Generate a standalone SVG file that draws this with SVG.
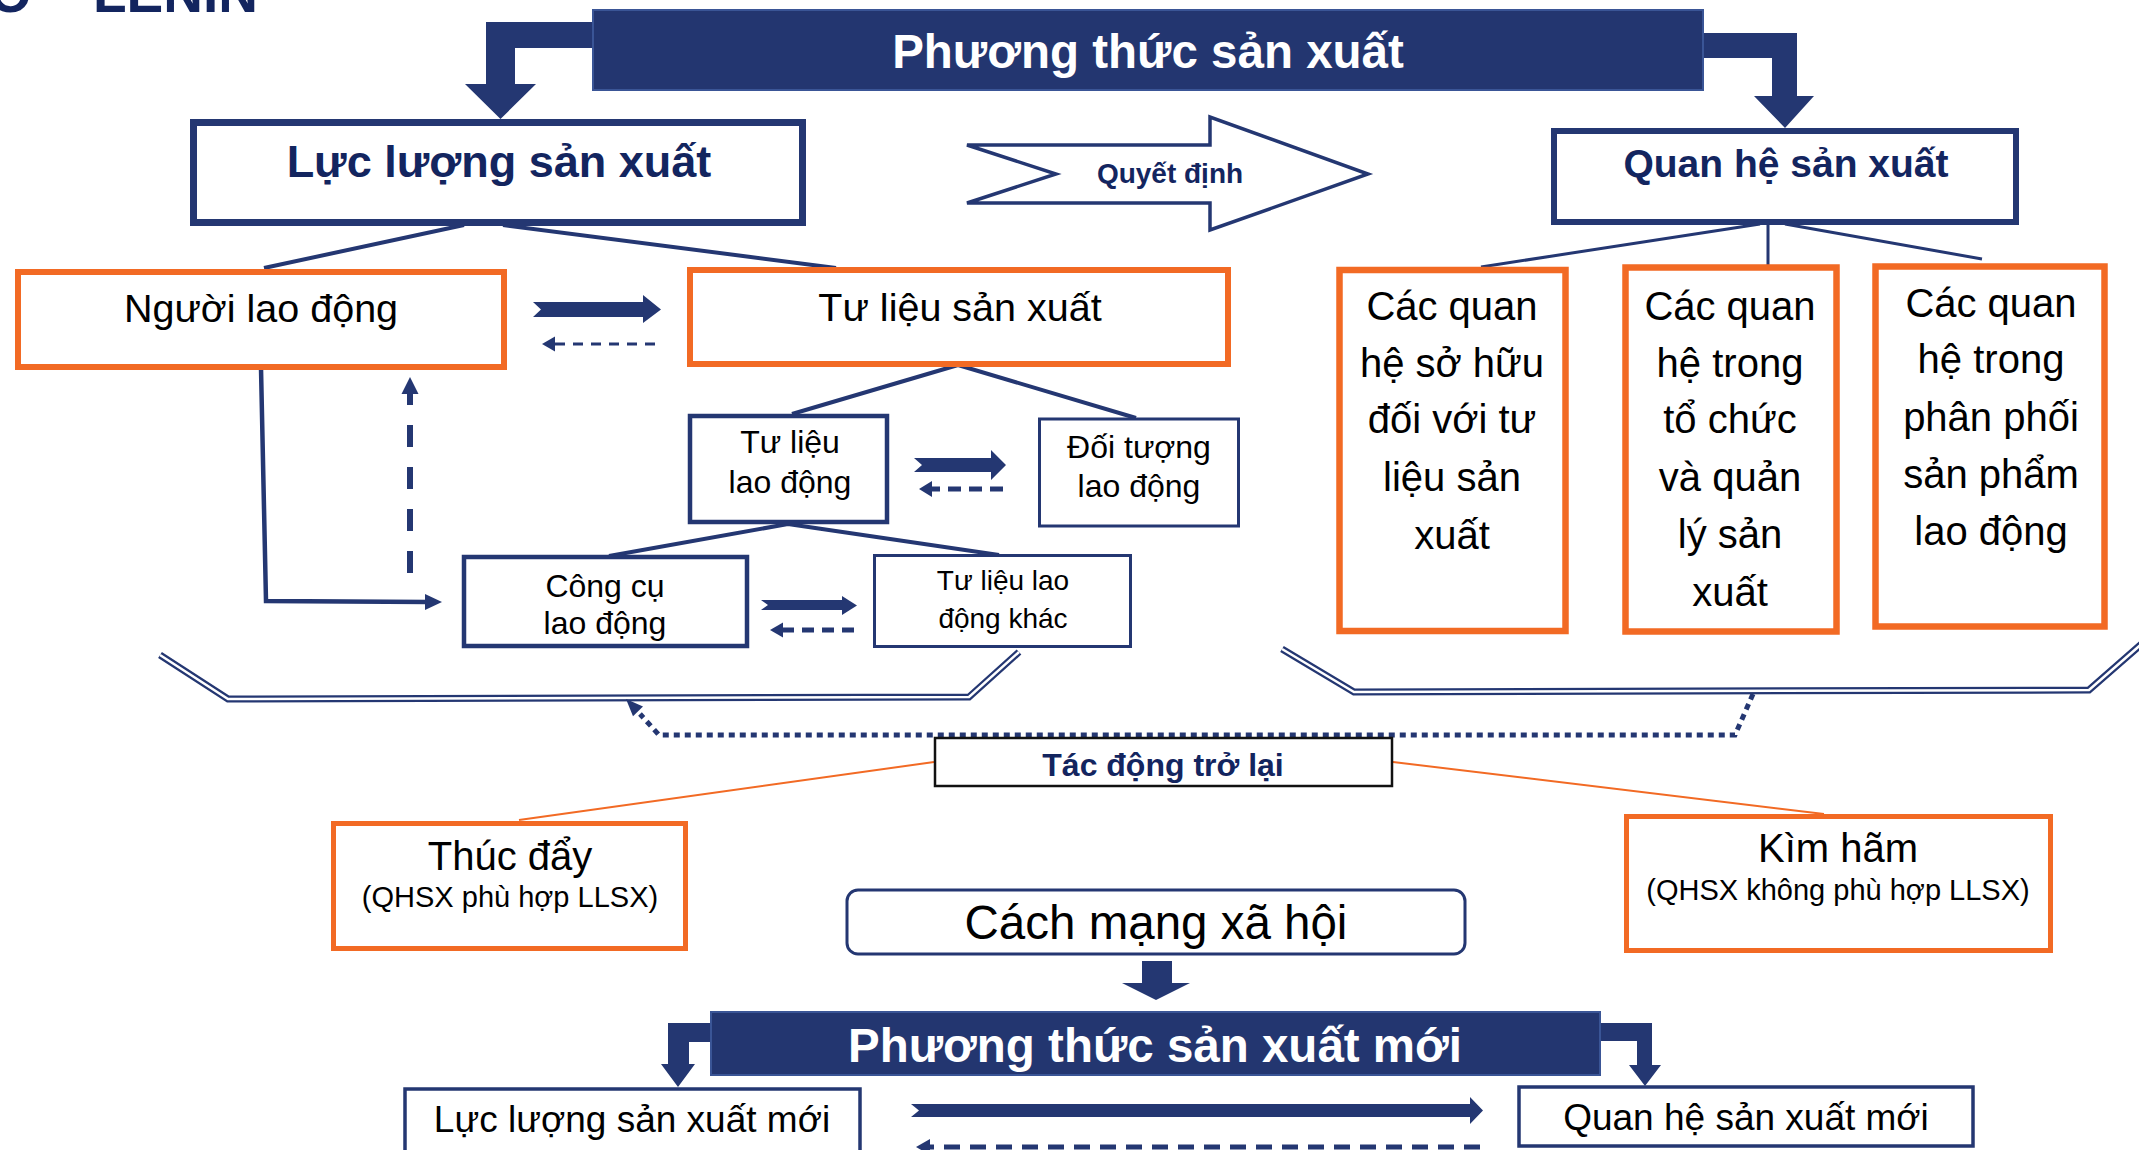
<svg xmlns="http://www.w3.org/2000/svg" width="2139" height="1150" viewBox="0 0 2139 1150">
<style>
text{font-family:"Liberation Sans",Arial,sans-serif;text-anchor:middle}
.t{fill:#000}
.nb{fill:#13255f;font-weight:bold}
.wb{fill:#fff;font-weight:bold}
.nav{fill:#243772}
.ln{stroke:#243772;fill:none}
.orb{fill:#fff;stroke:#f26a24}
.nvb{fill:#fff;stroke:#243772}
</style>
<rect width="2139" height="1150" fill="#fff"/>
<text x="258" y="12" class="nb" font-size="55" style="text-anchor:end">O – LENIN</text>

<g id="connectors">
  <!-- elbow arrows -->
  <polygon class="nav" points="593,22 486,22 486,84 465,84 500.5,119 536,84 515,84 515,48 593,48"/>
  <polygon class="nav" points="1703,33 1797,33 1797,96 1814,96 1785,128 1754,96 1772,96 1772,58 1703,58"/>
  <polygon class="nav" points="711,1023 668,1023 668,1064 661,1064 678,1087 695,1064 689,1064 689,1042 711,1042"/>
  <polygon class="nav" points="1600,1023 1652,1023 1652,1065 1661,1065 1645,1086 1629,1065 1637,1065 1637,1041 1600,1041"/>
  <!-- tree lines -->
  <path class="ln" stroke-width="4" d="M464,225 L264,268 M503,225 L836,268"/>
  <path class="ln" stroke-width="4" d="M958,365 L792,414 M958,365 L1136,418"/>
  <path class="ln" stroke-width="4" d="M788,524 L609,556 M788,524 L999,555"/>
  <path class="ln" stroke-width="3" d="M1760,224 L1481,267 M1768,224 L1768,265 M1785,224 L1982,259"/>
  <!-- Nguoi lao dong -> Cong cu -->
  <polyline class="ln" stroke-width="4.5" points="261,368 266,601 428,602"/>
  <polygon class="nav" points="425,594 442,602 425,610"/>
  <!-- vertical dashed up -->
  <line class="ln" stroke-width="6" x1="410" y1="573" x2="410" y2="393" stroke-dasharray="22 20"/>
  <polygon class="nav" points="401.5,394 410,377 418.5,394"/>
  <!-- thick arrows -->
  <polygon class="nav" points="533,302 643,302 643,295 661,309.5 643,323 643,317 533,317 541,309.5"/>
  <polygon class="nav" points="914,458 991,458 991,450 1006,465 991,480 991,472 914,472 922,465"/>
  <polygon class="nav" points="761,600 842,600 842,596 857,605.5 842,615 842,610 761,610 768,605"/>
  <polygon class="nav" points="911,1104 1470,1104 1470,1097 1483,1110.5 1470,1124 1470,1117 911,1117 919,1110.5"/>
  <!-- dashed back arrows -->
  <line class="ln" stroke-width="3" x1="655" y1="344" x2="555" y2="344" stroke-dasharray="10 8"/>
  <polygon class="nav" points="555,336.5 542,344 555,351.5"/>
  <line class="ln" stroke-width="5" x1="1003" y1="489" x2="932" y2="489" stroke-dasharray="13 8"/>
  <polygon class="nav" points="932,481 919,489 932,497"/>
  <line class="ln" stroke-width="5" x1="854" y1="630" x2="783" y2="630" stroke-dasharray="12 8"/>
  <polygon class="nav" points="783,622.5 770,630 783,637.5"/>
  <line class="ln" stroke-width="5" x1="1480" y1="1147" x2="930" y2="1147" stroke-dasharray="16 10"/>
  <polygon class="nav" points="930,1139 916,1147 930,1155"/>
  <!-- brackets (double lines) -->
  <path class="ln" stroke-width="7" d="M160,655 L228,699 L969,697 L1019,652"/>
  <path stroke="#fff" fill="none" stroke-width="2.5" d="M160,655 L228,699 L969,697 L1019,652"/>
  <path class="ln" stroke-width="7" d="M1282,649 L1354,692 L2089,690 L2145,641"/>
  <path stroke="#fff" fill="none" stroke-width="2.5" d="M1282,649 L1354,692 L2089,690 L2145,641"/>
  <!-- dotted feedback -->
  <polyline class="ln" stroke-width="5" stroke-dasharray="6 5" points="1753,694 1735,735 659,735 640,714"/>
  <polygon class="nav" points="626,699 643,706.6 633,716.2"/>
  <!-- orange lines -->
  <path stroke="#f26a24" stroke-width="2" fill="none" d="M934,762 L519,820 M1393,762 L1824,814"/>
  <!-- down arrow -->
  <polygon class="nav" points="1142,961 1172,961 1172,983 1190,983 1156,1000 1122,983 1142,983"/>
</g>

<g id="phuong-thuc">
  <rect x="593" y="10" width="1110" height="80" fill="#233670" stroke="#3a5596" stroke-width="2"/>
  <text x="1148" y="68" class="wb" font-size="47.5">Phương thức sản xuất</text>
</g>
<g id="luc-luong">
  <rect x="193.5" y="122.5" width="609" height="100" class="nvb" stroke-width="7"/>
  <text x="499" y="177" class="nb" font-size="45">Lực lượng sản xuất</text>
</g>
<g id="quyet-dinh">
  <polygon points="967,145 1210,145 1210,117 1368,174 1210,230 1210,203 967,203 1056,174" fill="#fff" stroke="#243772" stroke-width="3.5"/>
  <text x="1170" y="183" class="nb" font-size="28">Quyết định</text>
</g>
<g id="quan-he">
  <rect x="1554" y="131" width="462" height="91" class="nvb" stroke-width="6"/>
  <text x="1786" y="177" class="nb" font-size="39">Quan hệ sản xuất</text>
</g>
<g id="nguoi-lao-dong">
  <rect x="18" y="272" width="486" height="95" class="orb" stroke-width="6"/>
  <text x="261" y="322" class="t" font-size="39.5">Người lao động</text>
</g>
<g id="tu-lieu-sx">
  <rect x="690" y="270" width="538" height="94" class="orb" stroke-width="6"/>
  <text x="960" y="321" class="t" font-size="39.5">Tư liệu sản xuất</text>
</g>
<g id="tu-lieu-ld">
  <rect x="690" y="416" width="197" height="106" class="nvb" stroke-width="4.5"/>
  <text x="790" y="453" class="t" font-size="32">Tư liệu</text>
  <text x="790" y="493" class="t" font-size="32">lao động</text>
</g>
<g id="doi-tuong">
  <rect x="1039.5" y="419" width="199" height="107" class="nvb" stroke-width="3"/>
  <text x="1139" y="458" class="t" font-size="32">Đối tượng</text>
  <text x="1139" y="497" class="t" font-size="32">lao động</text>
</g>
<g id="cong-cu">
  <rect x="464" y="557" width="283" height="89" class="nvb" stroke-width="4.5"/>
  <text x="605" y="597" class="t" font-size="32">Công cụ</text>
  <text x="605" y="634" class="t" font-size="32">lao động</text>
</g>
<g id="tu-lieu-khac">
  <rect x="874.5" y="555.5" width="256" height="91" class="nvb" stroke-width="3"/>
  <text x="1003" y="590" class="t" font-size="28">Tư liệu lao</text>
  <text x="1003" y="628" class="t" font-size="28">động khác</text>
</g>
<g id="qh-so-huu">
  <rect x="1339.5" y="270" width="226" height="361" class="orb" stroke-width="6.5"/>
  <g class="t" font-size="40">
    <text x="1452" y="320">Các quan</text>
    <text x="1452" y="377">hệ sở hữu</text>
    <text x="1452" y="433">đối với tư</text>
    <text x="1452" y="491">liệu sản</text>
    <text x="1452" y="549">xuất</text>
  </g>
</g>
<g id="qh-to-chuc">
  <rect x="1625.5" y="267.5" width="211" height="364" class="orb" stroke-width="6.5"/>
  <g class="t" font-size="40">
    <text x="1730" y="320">Các quan</text>
    <text x="1730" y="377">hệ trong</text>
    <text x="1730" y="433">tổ chức</text>
    <text x="1730" y="491">và quản</text>
    <text x="1730" y="548">lý sản</text>
    <text x="1730" y="606">xuất</text>
  </g>
</g>
<g id="qh-phan-phoi">
  <rect x="1875.5" y="266.5" width="229" height="360" class="orb" stroke-width="6.5"/>
  <g class="t" font-size="40">
    <text x="1991" y="317">Các quan</text>
    <text x="1991" y="373">hệ trong</text>
    <text x="1991" y="431">phân phối</text>
    <text x="1991" y="488">sản phẩm</text>
    <text x="1991" y="545">lao động</text>
  </g>
</g>
<g id="tac-dong">
  <rect x="935" y="738" width="457" height="48" fill="#fff" stroke="#111" stroke-width="2.5"/>
  <text x="1163" y="776" class="nb" font-size="32">Tác động trở lại</text>
</g>
<g id="thuc-day">
  <rect x="333.5" y="823.5" width="352" height="125" class="orb" stroke-width="5"/>
  <text x="510" y="870" class="t" font-size="40">Thúc đẩy</text>
  <text x="510" y="907" class="t" font-size="29">(QHSX phù hợp LLSX)</text>
</g>
<g id="kim-ham">
  <rect x="1626.5" y="816.5" width="424" height="134" class="orb" stroke-width="5"/>
  <text x="1838" y="862" class="t" font-size="40">Kìm hãm</text>
  <text x="1838" y="900" class="t" font-size="29">(QHSX không phù hợp LLSX)</text>
</g>
<g id="cach-mang">
  <rect x="847" y="890" width="618" height="64" rx="11" class="nvb" stroke-width="3"/>
  <text x="1156" y="939" class="t" font-size="47.5">Cách mạng xã hội</text>
</g>
<g id="phuong-thuc-moi">
  <rect x="711" y="1012" width="889" height="63" fill="#233670" stroke="#3a5596" stroke-width="2"/>
  <text x="1155" y="1062" class="wb" font-size="47.5">Phương thức sản xuất mới</text>
</g>
<g id="luc-luong-moi">
  <rect x="405" y="1089" width="455" height="70" class="nvb" stroke-width="3.5"/>
  <text x="632" y="1132" class="t" font-size="37">Lực lượng sản xuất mới</text>
</g>
<g id="quan-he-moi">
  <rect x="1519" y="1087" width="454" height="59" class="nvb" stroke-width="3.5"/>
  <text x="1746" y="1130" class="t" font-size="37">Quan hệ sản xuất mới</text>
</g>
</svg>
